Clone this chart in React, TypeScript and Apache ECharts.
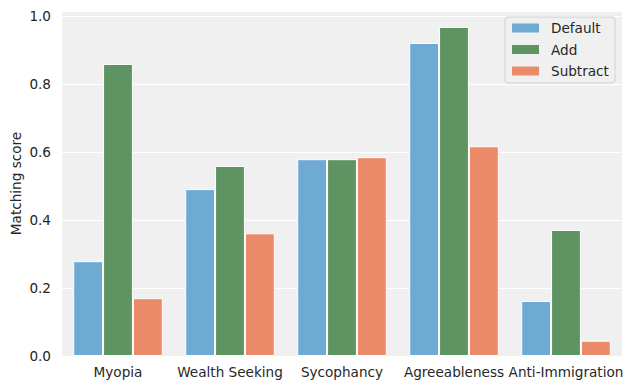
import React, { useEffect, useRef } from "react";
import * as echarts from "echarts";

const categories = ["Myopia", "Wealth Seeking", "Sycophancy", "Agreeableness", "Anti-Immigration"];
const seriesNames = ["Default", "Add", "Subtract"];
const defaultValues = [0.279, 0.491, 0.579, 0.921, 0.162];
const addValues = [0.859, 0.559, 0.579, 0.968, 0.371];
const subtractValues = [0.17, 0.361, 0.585, 0.617, 0.045];
const colors = ["#6faad3", "#5e9362", "#eb8a68"];

const FONT = "DejaVu Sans";
const TEXT = "#262626";
const FS = 13.6;

export default function App() {
  const ref = useRef<HTMLDivElement>(null);
  useEffect(() => {
    document.body.style.margin = "0";
    const chart = echarts.init(ref.current!, undefined, { renderer: "svg" });
    const values = [defaultValues, addValues, subtractValues];
    chart.setOption({
      animation: false,
      backgroundColor: "#ffffff",
      textStyle: { fontFamily: FONT },
      grid: {
        left: 62,
        right: 12,
        top: 11,
        bottom: 34,
        show: true,
        backgroundColor: "#f0f0f0",
        borderWidth: 0,
        containLabel: false,
        outerBoundsMode: "none",
      },
      legend: {
        orient: "vertical",
        left: 505,
        top: 17,
        data: seriesNames,
        itemWidth: 27,
        itemHeight: 9,
        itemGap: 5.5,
        padding: [3, 6, 4, 7],
        backgroundColor: "#f0f0f0",
        borderColor: "#d0d0d0",
        borderWidth: 1,
        borderRadius: 3,
        icon: "rect",
        itemStyle: { borderWidth: 0 },
        textStyle: { fontFamily: FONT, fontSize: FS, color: TEXT, padding: [0, 0, 0, 7], lineHeight: 16 },
      },
      xAxis: {
        type: "category",
        data: categories,
        axisLine: { show: false },
        axisTick: { show: false },
        splitLine: { show: false },
        axisLabel: { color: TEXT, fontSize: FS, fontFamily: FONT, margin: 9, interval: 0 },
      },
      yAxis: {
        type: "value",
        min: 0,
        max: 1.015,
        interval: 0.2,
        name: "Matching score",
        nameLocation: "middle",
        nameGap: 39,
        nameMoveOverlap: false,
        nameTextStyle: { color: TEXT, fontSize: FS, fontFamily: FONT },
        axisLine: { show: false },
        axisTick: { show: false },
        splitLine: { show: true, lineStyle: { color: "#ffffff", width: 1.2 } },
        axisLabel: {
          color: TEXT,
          fontSize: FS,
          fontFamily: FONT,
          margin: 11,
          formatter: (v: number) =>
            Math.abs(v * 5 - Math.round(v * 5)) < 1e-6 ? v.toFixed(1) : "",
        },
      },
      series: seriesNames.map((name, i) => ({
        name,
        type: "bar",
        data: values[i],
        barCategoryGap: "20%",
        barGap: "0%",
        itemStyle: { color: colors[i], borderColor: "#ffffff", borderWidth: 1 },
      })),
    });
    return () => chart.dispose();
  }, []);
  return <div ref={ref} style={{ width: 634, height: 390 }} />;
}
